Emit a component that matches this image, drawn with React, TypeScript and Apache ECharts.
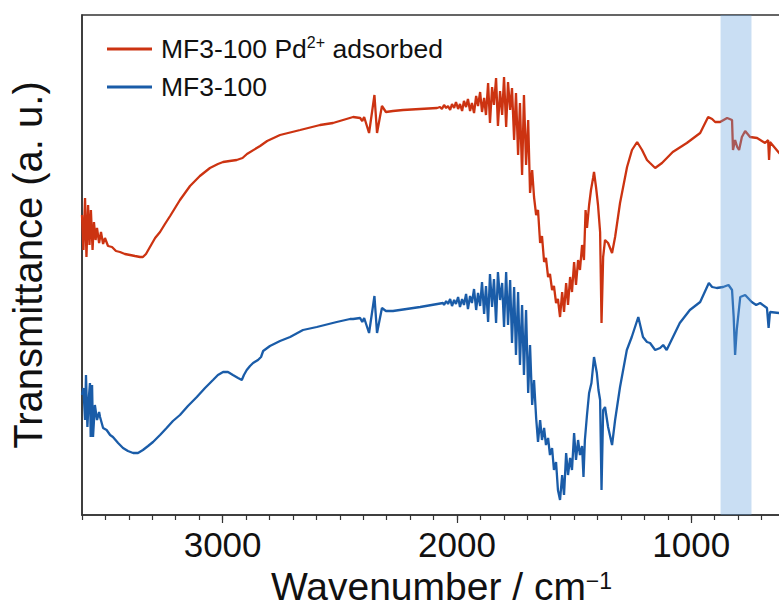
import { useEffect, useRef } from 'react';
import * as echarts from 'echarts';

// x: wavenumber (cm^-1), y: transmittance (arbitrary units, offset traces)
const wavenumberMajorTicks = [1000, 2000, 3000];
const seriesNames = ['MF3-100 Pd2+ adsorbed', 'MF3-100'];
const seriesColors = ['#cc3311', '#1a5ca8'];
const bandRange = [875, 743];

const redSpectrum: [number, number][] = [
  [3600, 300], [3594, 265], [3587, 317], [3581, 258], [3574, 310], [3568, 270], [3562, 305], [3555, 265],
  [3549, 293], [3542, 275], [3536, 287], [3527, 272], [3519, 283], [3510, 271], [3502, 277], [3489, 269],
  [3472, 268], [3455, 264], [3438, 263], [3417, 261], [3395, 260], [3374, 259], [3352, 258], [3340, 258],
  [3327, 261], [3310, 268], [3288, 277], [3267, 283], [3246, 291], [3224, 299], [3203, 307], [3182, 315],
  [3139, 329], [3097, 339], [3054, 347], [3020, 351], [2998, 353], [2970, 354], [2940, 355], [2915, 357],
  [2896, 361], [2840, 369], [2810, 374], [2755, 380], [2669, 385], [2584, 390], [2529, 392], [2443, 398],
  [2413, 397], [2404, 394], [2396, 398], [2375, 382], [2352, 420], [2341, 382], [2320, 409], [2303, 403],
  [2273, 404], [2230, 405], [2085, 407],
  [2072, 408], [2064, 406], [2055, 410], [2046, 407], [2038, 409], [2029, 405], [2021, 411], [2012, 407],
  [2004, 413], [1995, 406], [1987, 411], [1978, 404], [1970, 414], [1961, 408], [1953, 416], [1944, 404],
  [1936, 412], [1927, 402], [1918, 419], [1910, 409], [1901, 423], [1893, 403], [1884, 417], [1876, 400],
  [1867, 432], [1859, 392], [1850, 428], [1842, 410], [1833, 437], [1825, 389], [1816, 424], [1807, 400],
  [1799, 438], [1790, 388], [1782, 433], [1773, 405], [1765, 427], [1756, 375], [1748, 422], [1739, 360],
  [1731, 412], [1722, 340], [1714, 420], [1705, 350], [1696, 395], [1688, 322], [1679, 345], [1671, 318],
  [1662, 300], [1654, 305], [1645, 272], [1637, 279], [1628, 253], [1620, 257], [1611, 238], [1603, 241],
  [1594, 225], [1586, 229], [1577, 212], [1569, 216], [1560, 198], [1551, 223], [1543, 203], [1534, 232],
  [1526, 210], [1517, 238], [1509, 223], [1500, 253], [1492, 230], [1483, 255], [1475, 245], [1466, 270],
  [1458, 255], [1451, 305], [1445, 287], [1436, 310], [1428, 325], [1419, 337], [1415, 343], [1406, 327],
  [1398, 310], [1389, 283], [1383, 192], [1376, 258], [1368, 275], [1355, 272], [1338, 262], [1325, 278],
  [1304, 312], [1274, 348], [1253, 365], [1231, 373], [1210, 365], [1189, 355], [1176, 352], [1154, 347],
  [1125, 352], [1079, 363], [1019, 372], [962, 382], [928, 398], [911, 396], [898, 393], [877, 393],
  [847, 397], [826, 395], [822, 365], [813, 375], [804, 368], [796, 365], [784, 378], [770, 384],
  [749, 378], [719, 377], [685, 372], [672, 375], [668, 355], [664, 373], [625, 362], [600, 357],
];

const blueSpectrum: [number, number][] = [
  [3600, 120], [3594, 127], [3587, 95], [3583, 140], [3577, 88], [3570, 120], [3566, 132], [3563, 78],
  [3557, 130], [3553, 78], [3545, 110], [3536, 95], [3527, 103], [3523, 98], [3510, 87], [3495, 85],
  [3480, 80], [3468, 78], [3446, 72], [3425, 67], [3404, 64], [3382, 62], [3361, 62], [3340, 65],
  [3318, 69], [3297, 73], [3267, 80], [3239, 87], [3212, 94], [3182, 100], [3148, 109], [3110, 118],
  [3075, 127], [3041, 135], [3020, 140], [2998, 143], [2977, 143], [2956, 140], [2934, 137], [2918, 135],
  [2909, 140], [2897, 145], [2883, 149], [2870, 152], [2849, 155], [2836, 158], [2827, 164], [2798, 169],
  [2755, 174], [2712, 178], [2657, 185], [2598, 188], [2513, 193], [2456, 196], [2443, 196], [2413, 197],
  [2404, 193], [2396, 197], [2375, 182], [2352, 219], [2341, 182], [2320, 207], [2303, 204], [2273, 204],
  [2157, 208], [2059, 212],
  [2055, 210], [2046, 214], [2038, 211], [2029, 216], [2021, 209], [2012, 215], [2004, 211], [1995, 218],
  [1987, 208], [1978, 216], [1970, 210], [1961, 221], [1953, 206], [1944, 219], [1936, 212], [1927, 226],
  [1918, 205], [1910, 222], [1901, 209], [1893, 233], [1884, 201], [1876, 229], [1867, 193], [1859, 241],
  [1850, 208], [1842, 236], [1833, 192], [1825, 243], [1816, 215], [1807, 232], [1799, 188], [1790, 243],
  [1782, 190], [1773, 235], [1765, 172], [1756, 228], [1748, 160], [1739, 223], [1731, 150], [1722, 210],
  [1714, 140], [1705, 205], [1696, 122], [1688, 170], [1679, 110], [1671, 135], [1662, 97], [1654, 73],
  [1645, 95], [1637, 75], [1628, 87], [1620, 70], [1611, 77], [1603, 60], [1594, 67], [1586, 45],
  [1577, 53], [1569, 25], [1560, 15], [1551, 40], [1543, 20], [1534, 62], [1526, 40], [1517, 57],
  [1509, 45], [1500, 82], [1492, 55], [1483, 75], [1475, 60], [1466, 69], [1460, 38], [1454, 75],
  [1445, 100], [1436, 122], [1426, 132], [1415, 158], [1403, 142], [1396, 125], [1389, 115], [1383, 25],
  [1376, 105], [1368, 108], [1355, 88], [1338, 70], [1325, 95], [1304, 128], [1275, 165], [1254, 178],
  [1226, 198], [1206, 178], [1189, 173], [1176, 172], [1154, 165], [1133, 167], [1120, 170], [1105, 165],
  [1049, 192], [1006, 205], [962, 213], [925, 232], [911, 228], [891, 227], [864, 228], [841, 230],
  [826, 225], [819, 198], [813, 160], [806, 185], [791, 218], [770, 220], [742, 213], [723, 210],
  [706, 212], [677, 207], [670, 187], [664, 203], [625, 202], [600, 199],
];

const FONT = '"Liberation Sans", Arial, Helvetica, sans-serif';

export default function App() {
  const ref = useRef<HTMLDivElement>(null);

  useEffect(() => {
    document.body.style.margin = '0';
    const chart = echarts.init(ref.current!, undefined, { renderer: 'svg' });
    const axisColor = '#333333';
    chart.setOption({
      animation: false,
      textStyle: { fontFamily: FONT, color: '#111111' },
      grid: {
        left: 82,
        top: 15,
        right: -6,
        bottom: 93,
        containLabel: false,
        outerBoundsMode: 'none',
        show: true,
        borderColor: axisColor,
        borderWidth: 1.5,
        backgroundColor: 'transparent',
      },
      legend: {
        data: seriesNames,
        orient: 'vertical',
        left: 107,
        top: 34,
        padding: 0,
        itemGap: 8,
        itemWidth: 45,
        itemHeight: 3,
        icon: 'rect',
        formatter: (name: string) =>
          name === seriesNames[0] ? 'MF3-100 Pd{sup|2+} adsorbed' : name,
        textStyle: {
          fontFamily: FONT,
          fontSize: 26.5,
          lineHeight: 30,
          color: '#111111',
          padding: [0, 0, 0, 4],
          rich: {
            sup: { fontFamily: FONT, fontSize: 16, lineHeight: 24, verticalAlign: 'top', color: '#111111' },
          },
        },
      },
      xAxis: [
        {
          type: 'value',
          inverse: true,
          min: 600,
          max: 3600,
          interval: 100,
          position: 'bottom',
          name: 'Wavenumber / cm{sup|\u22121}',
          nameLocation: 'middle',
          nameGap: 53,
          nameTextStyle: {
            fontFamily: FONT,
            fontSize: 39,
            lineHeight: 34,
            color: '#111111',
            padding: [0, 0, 0, 16],
            rich: {
              sup: { fontFamily: FONT, fontSize: 23, lineHeight: 22, verticalAlign: 'top', color: '#111111' },
            },
          },
          axisLine: { show: true, lineStyle: { color: axisColor, width: 1.5 } },
          axisTick: { show: true, inside: false, length: 5, lineStyle: { color: axisColor, width: 1.2 } },
          axisLabel: {
            show: true,
            margin: 12,
            fontFamily: FONT,
            fontSize: 35,
            color: '#111111',
            formatter: (v: number) => (wavenumberMajorTicks.includes(v) ? String(v) : ''),
          },
          splitLine: { show: false },
        },
        {
          type: 'value',
          inverse: true,
          min: 600,
          max: 3600,
          interval: 100,
          position: 'bottom',
          axisLine: { show: false },
          axisTick: {
            show: true,
            inside: false,
            length: 8,
            customValues: wavenumberMajorTicks,
            lineStyle: { color: axisColor, width: 1.2 },
          },
          axisLabel: { show: false },
          splitLine: { show: false },
        },
      ],
      yAxis: {
        type: 'value',
        min: 0,
        max: 500,
        name: 'Transmittance (a. u.)',
        nameLocation: 'middle',
        nameRotate: 90,
        nameGap: 34,
        nameTextStyle: { fontFamily: FONT, fontSize: 40, color: '#111111' },
        axisLine: { show: true, lineStyle: { color: axisColor, width: 1.5 } },
        axisTick: { show: false },
        axisLabel: { show: false },
        splitLine: { show: false },
      },
      series: [
        {
          name: seriesNames[0],
          type: 'line',
          data: redSpectrum,
          showSymbol: false,
          symbol: 'none',
          color: seriesColors[0],
          lineStyle: { color: seriesColors[0], width: 2.3 },
          z: 2,
        },
        {
          name: seriesNames[1],
          type: 'line',
          data: blueSpectrum,
          showSymbol: false,
          symbol: 'none',
          color: seriesColors[1],
          lineStyle: { color: seriesColors[1], width: 2.3 },
          z: 2,
        },
        {
          name: 'band',
          type: 'line',
          data: [],
          z: 5,
          markArea: {
            silent: true,
            z: 5,
            itemStyle: { color: 'rgba(100,160,220,0.35)' },
            data: [[{ xAxis: bandRange[0] }, { xAxis: bandRange[1] }]],
          },
        },
      ],
    });
    return () => chart.dispose();
  }, []);

  return <div ref={ref} style={{ width: 779, height: 608 }} />;
}
